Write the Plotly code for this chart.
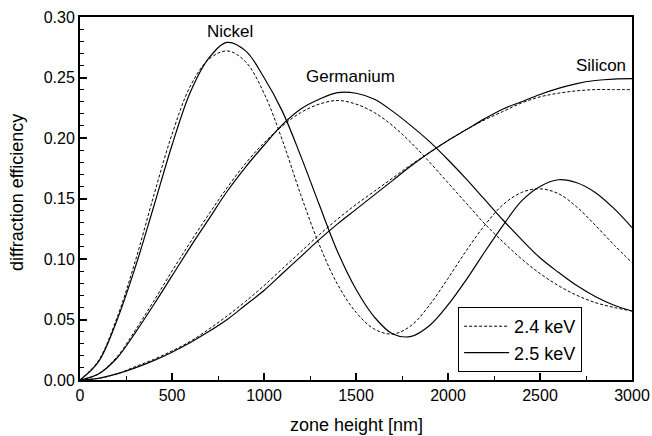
import plotly.graph_objects as go

zone_height = [0, 100, 200, 300, 400, 500, 600, 700, 800, 900, 1000,
               1100, 1200, 1300, 1400, 1500, 1600, 1700, 1800, 1900, 2000,
               2100, 2200, 2300, 2400, 2500, 2600, 2700, 2800, 2900, 3000]

nickel_24 = [0.000, 0.016, 0.051, 0.098, 0.152, 0.203, 0.243, 0.265, 0.272, 0.263, 0.237,
             0.198, 0.153, 0.112, 0.079, 0.056, 0.042, 0.038, 0.045, 0.062, 0.084,
             0.107, 0.128, 0.145, 0.155, 0.158, 0.154, 0.143, 0.128, 0.112, 0.097]
nickel_25 = [0.000, 0.015, 0.049, 0.093, 0.143, 0.194, 0.238, 0.266, 0.279, 0.272, 0.250,
             0.222, 0.185, 0.145, 0.106, 0.075, 0.052, 0.038, 0.036, 0.045, 0.062,
             0.083, 0.106, 0.128, 0.148, 0.160, 0.1655, 0.163, 0.155, 0.142, 0.126]
germanium_24 = [0.000, 0.005, 0.019, 0.041, 0.065, 0.090, 0.114, 0.137, 0.159, 0.179, 0.196,
                0.210, 0.221, 0.228, 0.231, 0.228, 0.221, 0.210, 0.196, 0.180, 0.163,
                0.146, 0.129, 0.114, 0.100, 0.088, 0.078, 0.070, 0.064, 0.060, 0.057]
germanium_25 = [0.000, 0.005, 0.018, 0.039, 0.062, 0.086, 0.110, 0.133, 0.156, 0.176, 0.194,
                0.211, 0.224, 0.232, 0.2375, 0.237, 0.232, 0.222, 0.210, 0.197, 0.182,
                0.166, 0.149, 0.132, 0.116, 0.101, 0.089, 0.078, 0.069, 0.062, 0.057]
silicon_24 = [0.000, 0.0014, 0.005, 0.011, 0.017, 0.024, 0.032, 0.042, 0.053, 0.065, 0.078,
              0.092, 0.106, 0.120, 0.133, 0.145, 0.156, 0.167, 0.178, 0.188, 0.198,
              0.207, 0.215, 0.222, 0.229, 0.234, 0.237, 0.239, 0.240, 0.240, 0.240]
silicon_25 = [0.000, 0.0013, 0.005, 0.010, 0.016, 0.023, 0.031, 0.040, 0.050, 0.062, 0.074,
              0.088, 0.102, 0.116, 0.129, 0.141, 0.153, 0.165, 0.177, 0.188, 0.198,
              0.207, 0.216, 0.224, 0.230, 0.236, 0.241, 0.245, 0.2475, 0.2487, 0.249]

series = [
    ("Nickel", nickel_24, nickel_25),
    ("Germanium", germanium_24, germanium_25),
    ("Silicon", silicon_24, silicon_25),
]

FONT = "Arial, Liberation Sans, sans-serif"

fig = go.Figure()
for i, (mat, y24, y25) in enumerate(series):
    fig.add_trace(go.Scatter(
        x=zone_height, y=y24, mode="lines", name="2.4 keV", legendgroup="a",
        showlegend=(i == 0), line=dict(color="black", width=1, dash="3px,2px", shape="spline"),
    ))
for i, (mat, y24, y25) in enumerate(series):
    fig.add_trace(go.Scatter(
        x=zone_height, y=y25, mode="lines", name="2.5 keV", legendgroup="b",
        showlegend=(i == 0), line=dict(color="black", width=1.2, shape="spline"),
    ))

labels = [("Nickel", 816, 0.288, "center"), ("Germanium", 1469, 0.2507, "center"),
          ("Silicon", 2976, 0.260, "right")]
for txt, xv, yv, anc in labels:
    fig.add_annotation(x=xv, y=yv, text=txt, showarrow=False, xanchor=anc, yanchor="middle",
                       font=dict(family=FONT, size=17, color="black"))

# axis titles
fig.add_annotation(x=-63 / 552, y=0.515, xref="paper", yref="paper", text="diffraction efficiency",
                   showarrow=False, textangle=-90, xanchor="center", yanchor="middle",
                   font=dict(family=FONT, size=18, color="black"))
fig.add_annotation(x=0.5, y=-45 / 363, xref="paper", yref="paper", text="zone height [nm]",
                   showarrow=False, xanchor="center", yanchor="middle",
                   font=dict(family=FONT, size=18, color="black"))

fig.update_layout(
    width=652, height=436,
    margin=dict(l=80, r=20, t=17, b=56, autoexpand=False),
    paper_bgcolor="white", plot_bgcolor="white",
    font=dict(family=FONT, size=16, color="black"),
    legend=dict(x=0.685, y=0.022, xanchor="left", yanchor="bottom",
                bgcolor="white", bordercolor="black", borderwidth=1,
                font=dict(family=FONT, size=18, color="black"),
                tracegroupgap=0, itemwidth=45),
)
fig.update_xaxes(
    range=[0, 3000], showgrid=False, zeroline=False, automargin=False,
    showline=True, linecolor="black", linewidth=2, mirror=True,
    ticks="inside", ticklen=7, tickwidth=1.5, tickcolor="black",
    tickvals=[0, 500, 1000, 1500, 2000, 2500, 3000],
    minor=dict(ticks="inside", ticklen=4, tickwidth=1.2, tickcolor="black", dtick=250),
    tickfont=dict(family=FONT, size=16),
)
fig.update_yaxes(
    range=[0, 0.30], showgrid=False, zeroline=False, automargin=False,
    showline=True, linecolor="black", linewidth=2, mirror=True,
    ticks="inside", ticklen=7, tickwidth=1.5, tickcolor="black",
    dtick=0.05, tickformat=".2f",
    minor=dict(ticks="inside", ticklen=4, tickwidth=1.2, tickcolor="black", dtick=0.01),
    tickfont=dict(family=FONT, size=16),
)

fig.write_html("out.html", config={"displayModeBar": False},
               post_script="document.body.style.margin='0';document.body.style.overflow='hidden';")
